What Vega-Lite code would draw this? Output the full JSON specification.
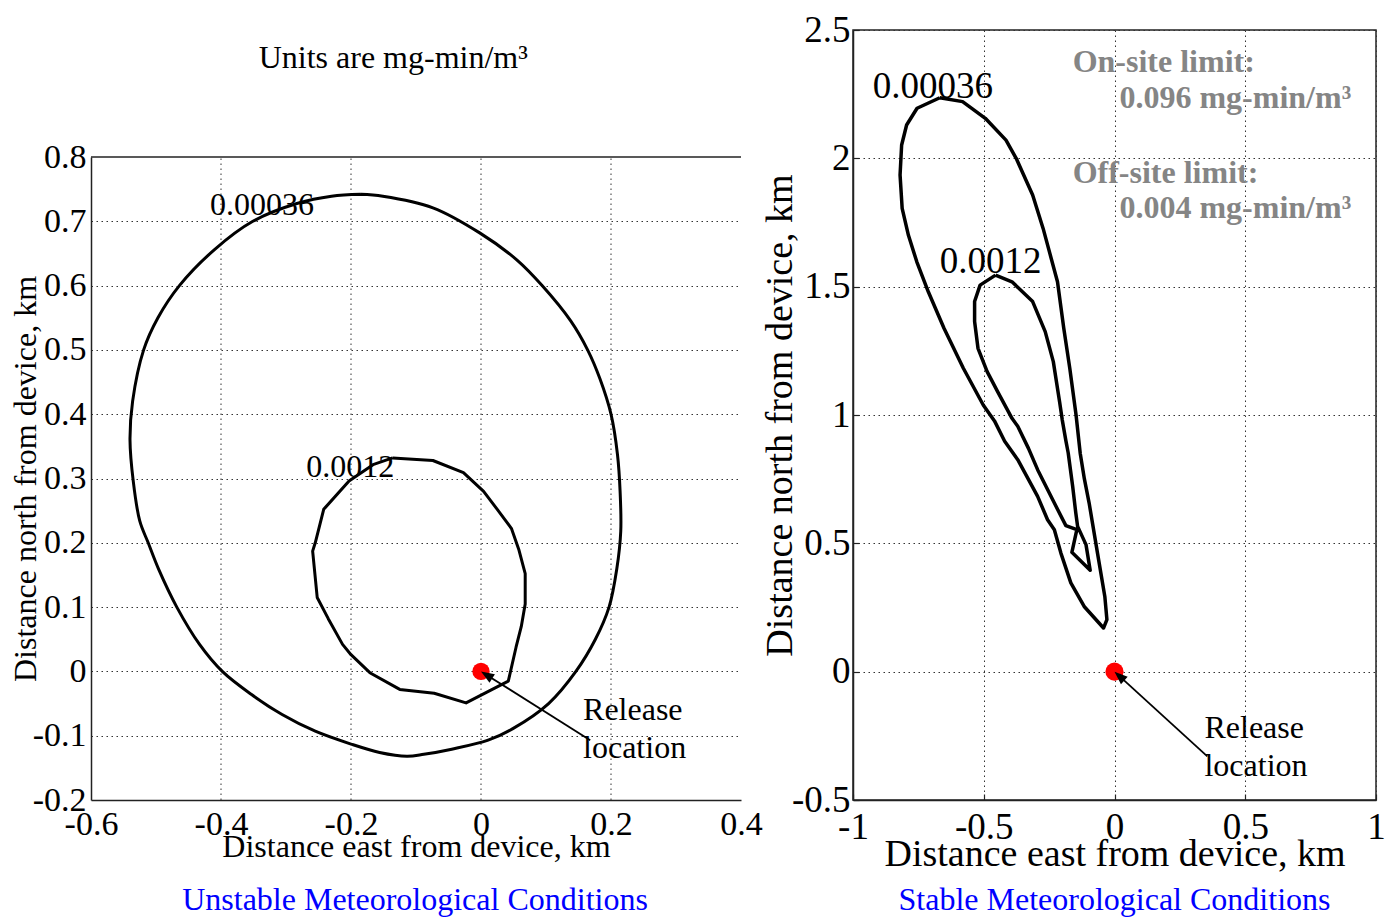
{
  "$schema": "https://vega.github.io/schema/vega-lite/v6.json",
  "background": "white",
  "padding": {"left": 9, "top": 10, "right": 4, "bottom": 2},
  "bounds": "flush",
  "spacing": 112,
  "config": {
    "view": {"stroke": null},
    "font": "Liberation Serif",
    "axis": {
      "labelFont": "Liberation Serif",
      "titleFont": "Liberation Serif",
      "labelColor": "black",
      "titleColor": "black",
      "titleFontWeight": "normal",
      "ticks": false,
      "grid": true,
      "gridColor": "#333333",
      "gridDash": [1.5, 3.5],
      "gridWidth": 1,
      "domainColor": "#222222",
      "domainWidth": 1.5,
      "labelFlush": false,
      "labelOverlap": false,
      "labelBound": false,
      "format": "~g",
      "labelExpr": "replace(datum.label, '−', '-')"
    }
  },
  "datasets": {
    "leftContours": [
      {"level": "0.00036", "i": 0, "x": -0.185, "y": 0.742},
      {"level": "0.00036", "i": 1, "x": -0.151, "y": 0.739},
      {"level": "0.00036", "i": 2, "x": -0.074, "y": 0.721},
      {"level": "0.00036", "i": 3, "x": -0.002, "y": 0.682},
      {"level": "0.00036", "i": 4, "x": 0.055, "y": 0.640},
      {"level": "0.00036", "i": 5, "x": 0.094, "y": 0.600},
      {"level": "0.00036", "i": 6, "x": 0.138, "y": 0.545},
      {"level": "0.00036", "i": 7, "x": 0.164, "y": 0.500},
      {"level": "0.00036", "i": 8, "x": 0.183, "y": 0.455},
      {"level": "0.00036", "i": 9, "x": 0.200, "y": 0.400},
      {"level": "0.00036", "i": 10, "x": 0.210, "y": 0.337},
      {"level": "0.00036", "i": 11, "x": 0.214, "y": 0.280},
      {"level": "0.00036", "i": 12, "x": 0.215, "y": 0.218},
      {"level": "0.00036", "i": 13, "x": 0.209, "y": 0.160},
      {"level": "0.00036", "i": 14, "x": 0.197, "y": 0.100},
      {"level": "0.00036", "i": 15, "x": 0.176, "y": 0.050},
      {"level": "0.00036", "i": 16, "x": 0.146, "y": 0.000},
      {"level": "0.00036", "i": 17, "x": 0.104, "y": -0.050},
      {"level": "0.00036", "i": 18, "x": 0.049, "y": -0.089},
      {"level": "0.00036", "i": 19, "x": 0.011, "y": -0.107},
      {"level": "0.00036", "i": 20, "x": -0.045, "y": -0.121},
      {"level": "0.00036", "i": 21, "x": -0.088, "y": -0.129},
      {"level": "0.00036", "i": 22, "x": -0.114, "y": -0.132},
      {"level": "0.00036", "i": 23, "x": -0.156, "y": -0.126},
      {"level": "0.00036", "i": 24, "x": -0.200, "y": -0.113},
      {"level": "0.00036", "i": 25, "x": -0.255, "y": -0.093},
      {"level": "0.00036", "i": 26, "x": -0.306, "y": -0.067},
      {"level": "0.00036", "i": 27, "x": -0.353, "y": -0.036},
      {"level": "0.00036", "i": 28, "x": -0.398, "y": 0.000},
      {"level": "0.00036", "i": 29, "x": -0.433, "y": 0.042},
      {"level": "0.00036", "i": 30, "x": -0.468, "y": 0.100},
      {"level": "0.00036", "i": 31, "x": -0.496, "y": 0.159},
      {"level": "0.00036", "i": 32, "x": -0.512, "y": 0.200},
      {"level": "0.00036", "i": 33, "x": -0.525, "y": 0.234},
      {"level": "0.00036", "i": 34, "x": -0.535, "y": 0.296},
      {"level": "0.00036", "i": 35, "x": -0.540, "y": 0.360},
      {"level": "0.00036", "i": 36, "x": -0.536, "y": 0.420},
      {"level": "0.00036", "i": 37, "x": -0.519, "y": 0.500},
      {"level": "0.00036", "i": 38, "x": -0.497, "y": 0.550},
      {"level": "0.00036", "i": 39, "x": -0.464, "y": 0.600},
      {"level": "0.00036", "i": 40, "x": -0.410, "y": 0.656},
      {"level": "0.00036", "i": 41, "x": -0.351, "y": 0.700},
      {"level": "0.00036", "i": 42, "x": -0.282, "y": 0.728},
      {"level": "0.00036", "i": 43, "x": -0.230, "y": 0.739},
      {"level": "0.00036", "i": 44, "x": -0.185, "y": 0.742},
      {"level": "0.0012", "i": 0, "x": -0.136, "y": 0.332},
      {"level": "0.0012", "i": 1, "x": -0.074, "y": 0.328},
      {"level": "0.0012", "i": 2, "x": -0.027, "y": 0.309},
      {"level": "0.0012", "i": 3, "x": 0.004, "y": 0.280},
      {"level": "0.0012", "i": 4, "x": 0.025, "y": 0.252},
      {"level": "0.0012", "i": 5, "x": 0.047, "y": 0.222},
      {"level": "0.0012", "i": 6, "x": 0.058, "y": 0.190},
      {"level": "0.0012", "i": 7, "x": 0.068, "y": 0.152},
      {"level": "0.0012", "i": 8, "x": 0.068, "y": 0.105},
      {"level": "0.0012", "i": 9, "x": 0.062, "y": 0.070},
      {"level": "0.0012", "i": 10, "x": 0.054, "y": 0.038},
      {"level": "0.0012", "i": 11, "x": 0.042, "y": -0.015},
      {"level": "0.0012", "i": 12, "x": -0.023, "y": -0.049},
      {"level": "0.0012", "i": 13, "x": -0.072, "y": -0.034},
      {"level": "0.0012", "i": 14, "x": -0.125, "y": -0.028},
      {"level": "0.0012", "i": 15, "x": -0.171, "y": -0.002},
      {"level": "0.0012", "i": 16, "x": -0.200, "y": 0.026},
      {"level": "0.0012", "i": 17, "x": -0.213, "y": 0.042},
      {"level": "0.0012", "i": 18, "x": -0.235, "y": 0.082},
      {"level": "0.0012", "i": 19, "x": -0.252, "y": 0.115},
      {"level": "0.0012", "i": 20, "x": -0.259, "y": 0.187},
      {"level": "0.0012", "i": 21, "x": -0.255, "y": 0.200},
      {"level": "0.0012", "i": 22, "x": -0.242, "y": 0.252},
      {"level": "0.0012", "i": 23, "x": -0.203, "y": 0.296},
      {"level": "0.0012", "i": 24, "x": -0.165, "y": 0.322},
      {"level": "0.0012", "i": 25, "x": -0.136, "y": 0.332}
    ],
    "rightContours": [
      {"level": "0.00036", "i": 0, "x": -0.668, "y": 2.236},
      {"level": "0.00036", "i": 1, "x": -0.581, "y": 2.221},
      {"level": "0.00036", "i": 2, "x": -0.494, "y": 2.156},
      {"level": "0.00036", "i": 3, "x": -0.415, "y": 2.071},
      {"level": "0.00036", "i": 4, "x": -0.376, "y": 2.000},
      {"level": "0.00036", "i": 5, "x": -0.313, "y": 1.857},
      {"level": "0.00036", "i": 6, "x": -0.273, "y": 1.727},
      {"level": "0.00036", "i": 7, "x": -0.242, "y": 1.610},
      {"level": "0.00036", "i": 8, "x": -0.218, "y": 1.519},
      {"level": "0.00036", "i": 9, "x": -0.194, "y": 1.338},
      {"level": "0.00036", "i": 10, "x": -0.171, "y": 1.182},
      {"level": "0.00036", "i": 11, "x": -0.147, "y": 1.000},
      {"level": "0.00036", "i": 12, "x": -0.131, "y": 0.850},
      {"level": "0.00036", "i": 13, "x": -0.115, "y": 0.750},
      {"level": "0.00036", "i": 14, "x": -0.097, "y": 0.657},
      {"level": "0.00036", "i": 15, "x": -0.065, "y": 0.462},
      {"level": "0.00036", "i": 16, "x": -0.037, "y": 0.293},
      {"level": "0.00036", "i": 17, "x": -0.029, "y": 0.203},
      {"level": "0.00036", "i": 18, "x": -0.042, "y": 0.170},
      {"level": "0.00036", "i": 19, "x": -0.116, "y": 0.254},
      {"level": "0.00036", "i": 20, "x": -0.167, "y": 0.346},
      {"level": "0.00036", "i": 21, "x": -0.205, "y": 0.462},
      {"level": "0.00036", "i": 22, "x": -0.230, "y": 0.553},
      {"level": "0.00036", "i": 23, "x": -0.256, "y": 0.592},
      {"level": "0.00036", "i": 24, "x": -0.294, "y": 0.683},
      {"level": "0.00036", "i": 25, "x": -0.370, "y": 0.826},
      {"level": "0.00036", "i": 26, "x": -0.420, "y": 0.898},
      {"level": "0.00036", "i": 27, "x": -0.459, "y": 0.977},
      {"level": "0.00036", "i": 28, "x": -0.502, "y": 1.039},
      {"level": "0.00036", "i": 29, "x": -0.578, "y": 1.182},
      {"level": "0.00036", "i": 30, "x": -0.652, "y": 1.338},
      {"level": "0.00036", "i": 31, "x": -0.712, "y": 1.480},
      {"level": "0.00036", "i": 32, "x": -0.756, "y": 1.597},
      {"level": "0.00036", "i": 33, "x": -0.788, "y": 1.700},
      {"level": "0.00036", "i": 34, "x": -0.812, "y": 1.805},
      {"level": "0.00036", "i": 35, "x": -0.820, "y": 1.935},
      {"level": "0.00036", "i": 36, "x": -0.814, "y": 2.052},
      {"level": "0.00036", "i": 37, "x": -0.795, "y": 2.130},
      {"level": "0.00036", "i": 38, "x": -0.755, "y": 2.195},
      {"level": "0.00036", "i": 39, "x": -0.668, "y": 2.236},
      {"level": "0.0012", "i": 0, "x": -0.455, "y": 1.545},
      {"level": "0.0012", "i": 1, "x": -0.392, "y": 1.519},
      {"level": "0.0012", "i": 2, "x": -0.313, "y": 1.442},
      {"level": "0.0012", "i": 3, "x": -0.265, "y": 1.325},
      {"level": "0.0012", "i": 4, "x": -0.234, "y": 1.208},
      {"level": "0.0012", "i": 5, "x": -0.210, "y": 1.052},
      {"level": "0.0012", "i": 6, "x": -0.200, "y": 0.982},
      {"level": "0.0012", "i": 7, "x": -0.186, "y": 0.900},
      {"level": "0.0012", "i": 8, "x": -0.177, "y": 0.852},
      {"level": "0.0012", "i": 9, "x": -0.160, "y": 0.722},
      {"level": "0.0012", "i": 10, "x": -0.148, "y": 0.618},
      {"level": "0.0012", "i": 11, "x": -0.141, "y": 0.566},
      {"level": "0.0012", "i": 12, "x": -0.109, "y": 0.495},
      {"level": "0.0012", "i": 13, "x": -0.093, "y": 0.395},
      {"level": "0.0012", "i": 14, "x": -0.163, "y": 0.465},
      {"level": "0.0012", "i": 15, "x": -0.144, "y": 0.553},
      {"level": "0.0012", "i": 16, "x": -0.186, "y": 0.569},
      {"level": "0.0012", "i": 17, "x": -0.230, "y": 0.657},
      {"level": "0.0012", "i": 18, "x": -0.294, "y": 0.787},
      {"level": "0.0012", "i": 19, "x": -0.329, "y": 0.870},
      {"level": "0.0012", "i": 20, "x": -0.370, "y": 0.956},
      {"level": "0.0012", "i": 21, "x": -0.392, "y": 0.987},
      {"level": "0.0012", "i": 22, "x": -0.447, "y": 1.091},
      {"level": "0.0012", "i": 23, "x": -0.487, "y": 1.169},
      {"level": "0.0012", "i": 24, "x": -0.522, "y": 1.260},
      {"level": "0.0012", "i": 25, "x": -0.535, "y": 1.364},
      {"level": "0.0012", "i": 26, "x": -0.535, "y": 1.442},
      {"level": "0.0012", "i": 27, "x": -0.514, "y": 1.506},
      {"level": "0.0012", "i": 28, "x": -0.455, "y": 1.545}
    ],
    "leftText": [
      {"x": -0.417, "y": 0.725, "text": "0.00036"},
      {"x": -0.269, "y": 0.318, "text": "0.0012"},
      {"x": 0.157, "y": -0.060, "text": "Release"},
      {"x": 0.157, "y": -0.119, "text": "location"}
    ],
    "leftCenterText": [
      {"x": -0.135, "y": 0.954, "text": "Units are mg-min/m³"}
    ],
    "leftCaption": [
      {"x": -0.1015, "y": -0.3555, "text": "Unstable Meteorological Conditions"}
    ],
    "leftGridX": [
      {"x": -0.4, "y": -0.2, "y2": 0.8},
      {"x": -0.2, "y": -0.2, "y2": 0.8},
      {"x": 0, "y": -0.2, "y2": 0.8},
      {"x": 0.2, "y": -0.2, "y2": 0.8}
    ],
    "rightContourText": [
      {"x": -0.924, "y": 2.279, "text": "0.00036"},
      {"x": -0.668, "y": 1.597, "text": "0.0012"}
    ],
    "rightRelease": [
      {"x": 0.344, "y": -0.218, "text": "Release"},
      {"x": 0.344, "y": -0.366, "text": "location"}
    ],
    "rightLimits": [
      {"x": -0.160, "y": 2.376, "text": "On-site limit:"},
      {"x": 0.019, "y": 2.236, "text": "0.096 mg-min/m³"},
      {"x": -0.160, "y": 1.944, "text": "Off-site limit:"},
      {"x": 0.019, "y": 1.808, "text": "0.004 mg-min/m³"}
    ],
    "rightCaption": [
      {"x": 0, "y": -0.8896, "text": "Stable Meteorological Conditions"}
    ],
    "release": [{"x": 0, "y": 0}],
    "leftArrow": [{"x": 0.168, "y": -0.107, "x2": 0, "y2": 0, "angle": 302}],
    "rightArrow": [{"x": 0.355, "y": -0.330, "x2": 0, "y2": 0, "angle": 312}],
    "leftTopBorder": [{"x": -0.6, "x2": 0.4, "y": 0.8}]
  },
  "hconcat": [
    {
      "width": 650,
      "height": 770,
      "layer": [
        {
          "data": {"name": "leftGridX"},
          "mark": {"type": "rule", "color": "#333333", "strokeWidth": 1, "strokeDash": [1.5, 3.5]},
          "encoding": {
            "x": {
              "field": "x", "type": "quantitative",
              "scale": {"domain": [-0.6, 0.4], "nice": false, "zero": false},
              "axis": {
                "values": [-0.6, -0.4, -0.2, 0, 0.2, 0.4],
                "grid": false,
                "title": "Distance east from device, km",
                "labelFontSize": 34, "titleFontSize": 32,
                "labelPadding": 7, "titlePadding": -10
              }
            },
            "y": {
              "field": "y", "type": "quantitative",
              "scale": {"domain": [-0.2, 0.8], "range": [770, 127], "nice": false, "zero": false},
              "axis": {
                "values": [-0.2, -0.1, 0, 0.1, 0.2, 0.3, 0.4, 0.5, 0.6, 0.7, 0.8],
                "title": "Distance north from device, km",
                "labelFontSize": 34, "titleFontSize": 32,
                "labelPadding": 5, "titlePadding": -10,
                "gridOpacity": {"condition": {"test": "datum.value > 0.75 || datum.value < -0.15", "value": 0}, "value": 1}
              }
            },
            "y2": {"field": "y2"}
          }
        },
        {
          "data": {"name": "leftContours"},
          "transform": [{"filter": "datum.level === '0.00036'"}],
          "mark": {"type": "line", "color": "black", "strokeWidth": 3, "strokeJoin": "round", "interpolate": "catmull-rom"},
          "encoding": {
            "x": {"field": "x", "type": "quantitative"},
            "y": {"field": "y", "type": "quantitative"},
            "order": {"field": "i", "type": "quantitative"}
          }
        },
        {
          "data": {"name": "leftContours"},
          "transform": [{"filter": "datum.level === '0.0012'"}],
          "mark": {"type": "line", "color": "black", "strokeWidth": 3, "strokeJoin": "round"},
          "encoding": {
            "x": {"field": "x", "type": "quantitative"},
            "y": {"field": "y", "type": "quantitative"},
            "order": {"field": "i", "type": "quantitative"}
          }
        },
        {
          "data": {"name": "leftTopBorder"},
          "mark": {"type": "rule", "color": "#222222", "strokeWidth": 1.5},
          "encoding": {
            "x": {"field": "x", "type": "quantitative"},
            "x2": {"field": "x2"},
            "y": {"field": "y", "type": "quantitative"}
          }
        },
        {
          "data": {"name": "leftText"},
          "mark": {"type": "text", "align": "left", "baseline": "middle", "fontSize": 32, "font": "Liberation Serif", "color": "black"},
          "encoding": {
            "x": {"field": "x", "type": "quantitative"},
            "y": {"field": "y", "type": "quantitative"},
            "text": {"field": "text"}
          }
        },
        {
          "data": {"name": "leftCenterText"},
          "mark": {"type": "text", "align": "center", "baseline": "middle", "fontSize": 32, "font": "Liberation Serif", "color": "black"},
          "encoding": {
            "x": {"field": "x", "type": "quantitative"},
            "y": {"field": "y", "type": "quantitative"},
            "text": {"field": "text"}
          }
        },
        {
          "data": {"name": "leftCaption"},
          "mark": {"type": "text", "align": "center", "baseline": "middle", "fontSize": 32, "font": "Liberation Serif", "color": "#0000ff"},
          "encoding": {
            "x": {"field": "x", "type": "quantitative"},
            "y": {"field": "y", "type": "quantitative"},
            "text": {"field": "text"}
          }
        },
        {
          "data": {"name": "leftArrow"},
          "mark": {"type": "rule", "color": "black", "strokeWidth": 1.8},
          "encoding": {
            "x": {"field": "x", "type": "quantitative"},
            "y": {"field": "y", "type": "quantitative"},
            "x2": {"field": "x2"},
            "y2": {"field": "y2"}
          }
        },
        {
          "data": {"name": "release"},
          "mark": {"type": "point", "filled": true, "color": "#ff0000", "size": 300, "opacity": 1, "shape": "circle"},
          "encoding": {
            "x": {"field": "x", "type": "quantitative"},
            "y": {"field": "y", "type": "quantitative"}
          }
        },
        {
          "data": {"name": "leftArrow"},
          "mark": {"type": "point", "filled": true, "color": "black", "opacity": 1, "size": 700, "shape": "M0,0 L-0.38,1 L0.38,1 Z"},
          "encoding": {
            "x": {"field": "x2", "type": "quantitative"},
            "y": {"field": "y2", "type": "quantitative"},
            "angle": {"field": "angle", "type": "quantitative", "scale": null}
          }
        }
      ]
    },
    {
      "width": 523,
      "height": 770,
      "view": {"stroke": "#222222", "strokeWidth": 1.5},
      "layer": [
        {
          "data": {"name": "rightContours"},
          "mark": {"type": "line", "color": "black", "strokeWidth": 3.5, "strokeJoin": "round"},
          "encoding": {
            "x": {
              "field": "x", "type": "quantitative",
              "scale": {"domain": [-1, 1], "nice": false, "zero": false},
              "axis": {
                "values": [-1, -0.5, 0, 0.5, 1],
                "title": "Distance east from device, km",
                "labelFontSize": 37, "titleFontSize": 38,
                "ticks": true, "tickSize": -6, "tickColor": "#222222", "tickWidth": 1.2,
                "labelPadding": 15, "titlePadding": -10
              }
            },
            "y": {
              "field": "y", "type": "quantitative",
              "scale": {"domain": [-0.5, 2.5], "nice": false, "zero": false},
              "axis": {
                "values": [-0.5, 0, 0.5, 1, 1.5, 2, 2.5],
                "title": "Distance north from device, km",
                "labelFontSize": 37, "titleFontSize": 38,
                "ticks": true, "tickSize": -6, "tickColor": "#222222", "tickWidth": 1.2,
                "labelPadding": 9, "titlePadding": -8
              }
            },
            "detail": {"field": "level", "type": "nominal"},
            "order": {"field": "i", "type": "quantitative"}
          }
        },
        {
          "data": {"name": "rightContourText"},
          "mark": {"type": "text", "align": "left", "baseline": "middle", "fontSize": 37, "font": "Liberation Serif", "color": "black"},
          "encoding": {
            "x": {"field": "x", "type": "quantitative"},
            "y": {"field": "y", "type": "quantitative"},
            "text": {"field": "text"}
          }
        },
        {
          "data": {"name": "rightRelease"},
          "mark": {"type": "text", "align": "left", "baseline": "middle", "fontSize": 32, "font": "Liberation Serif", "color": "black"},
          "encoding": {
            "x": {"field": "x", "type": "quantitative"},
            "y": {"field": "y", "type": "quantitative"},
            "text": {"field": "text"}
          }
        },
        {
          "data": {"name": "rightLimits"},
          "mark": {"type": "text", "align": "left", "baseline": "middle", "fontSize": 32, "fontWeight": "bold", "font": "Liberation Serif", "color": "#858585"},
          "encoding": {
            "x": {"field": "x", "type": "quantitative"},
            "y": {"field": "y", "type": "quantitative"},
            "text": {"field": "text"}
          }
        },
        {
          "data": {"name": "rightCaption"},
          "mark": {"type": "text", "align": "center", "baseline": "middle", "fontSize": 32, "font": "Liberation Serif", "color": "#0000ff"},
          "encoding": {
            "x": {"field": "x", "type": "quantitative"},
            "y": {"field": "y", "type": "quantitative"},
            "text": {"field": "text"}
          }
        },
        {
          "data": {"name": "rightArrow"},
          "mark": {"type": "rule", "color": "black", "strokeWidth": 1.8},
          "encoding": {
            "x": {"field": "x", "type": "quantitative"},
            "y": {"field": "y", "type": "quantitative"},
            "x2": {"field": "x2"},
            "y2": {"field": "y2"}
          }
        },
        {
          "data": {"name": "release"},
          "mark": {"type": "point", "filled": true, "color": "#ff0000", "size": 330, "opacity": 1, "shape": "circle"},
          "encoding": {
            "x": {"field": "x", "type": "quantitative"},
            "y": {"field": "y", "type": "quantitative"}
          }
        },
        {
          "data": {"name": "rightArrow"},
          "mark": {"type": "point", "filled": true, "color": "black", "opacity": 1, "size": 700, "shape": "M0,0 L-0.38,1 L0.38,1 Z"},
          "encoding": {
            "x": {"field": "x2", "type": "quantitative"},
            "y": {"field": "y2", "type": "quantitative"},
            "angle": {"field": "angle", "type": "quantitative", "scale": null}
          }
        }
      ]
    }
  ]
}
